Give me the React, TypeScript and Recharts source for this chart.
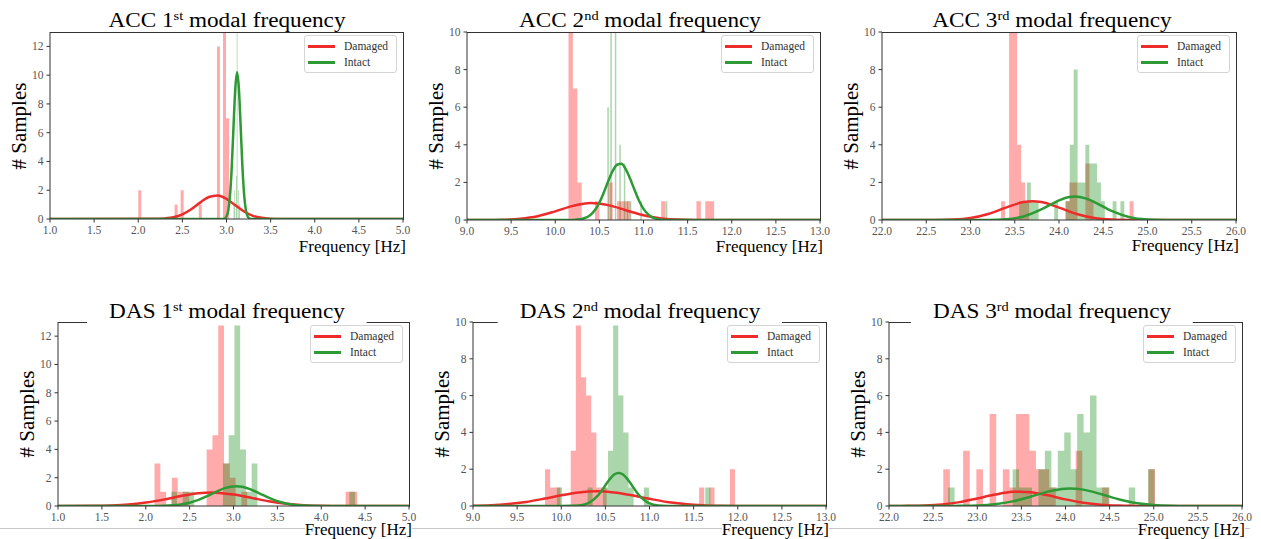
import React from 'react';
import { ComposedChart, Area, Line, XAxis, YAxis } from 'recharts';

const DAMAGED = '#ee2b2b';
const INTACT = '#2e9a35';
const FONT = '"Liberation Serif", "Times New Roman", serif';

// axis ticks
const freqTicksA = [1.0, 1.5, 2.0, 2.5, 3.0, 3.5, 4.0, 4.5, 5.0];
const freqTicksB = [9.0, 9.5, 10.0, 10.5, 11.0, 11.5, 12.0, 12.5, 13.0];
const freqTicksC = [22.0, 22.5, 23.0, 23.5, 24.0, 24.5, 25.0, 25.5, 26.0];
const countTicks13 = [0, 2, 4, 6, 8, 10, 12];
const countTicks10 = [0, 2, 4, 6, 8, 10];

// ---- ACC 1st modal frequency (histogram: first bin start, bin width, counts)
const acc1DamagedStart = 2.0;
const acc1DamagedWidth = 0.0343;
const acc1DamagedCounts = [2, 0, 0, 0, 0, 0, 0, 0, 0, 0, 0, 0, 1, 0, 2, 0, 0, 0, 0, 0, 1, 0, 0, 0, 0, 0, 12, 0, 16, 7];
const acc1IntactStart = 3.08;
const acc1IntactWidth = 0.009;
const acc1IntactCounts = [1, 2, 0, 3, 14, 0, 2, 1];
const acc1DamagedFitX = [1.0, 2.2, 2.3, 2.4, 2.5, 2.6, 2.7, 2.8, 2.9, 3.0, 3.1, 3.2, 3.3, 3.4, 3.5, 3.6, 5.0];
const acc1DamagedFitY = [0, 0.01, 0.04, 0.12, 0.32, 0.68, 1.14, 1.53, 1.64, 1.4, 0.95, 0.52, 0.22, 0.08, 0.02, 0, 0];
const acc1IntactFitX = [1.0, 2.96, 2.98, 3.0, 3.02, 3.04, 3.06, 3.08, 3.1, 3.12, 3.14, 3.16, 3.18, 3.2, 3.22, 3.24, 3.26, 3.28, 5.0];
const acc1IntactFitY = [0, 0, 0.04, 0.17, 0.6, 1.67, 3.68, 6.5, 9.1, 10.2, 9.1, 6.5, 3.68, 1.67, 0.6, 0.17, 0.04, 0, 0];

// ---- ACC 2nd modal frequency
const acc2DamagedStart = 10.15;
const acc2DamagedWidth = 0.05;
const acc2DamagedCounts = [12, 7, 2, 0, 0, 0, 1, 0, 0, 2, 0, 1, 1, 1, 0, 0, 0, 0, 0, 0, 0, 1, 0, 0, 0, 0, 0, 0, 0, 1, 0, 1, 1];
const acc2IntactStart = 10.59;
const acc2IntactWidth = 0.017;
const acc2IntactCounts = [6, 0, 12, 0, 0, 12, 0, 0, 4, 0, 0, 3, 0, 1, 0, 1, 0, 0, 0, 0, 0, 0, 1, 0, 0, 0, 0, 0, 0, 0, 0, 0, 0, 0, 0, 0, 0, 0, 0, 1];
const acc2DamagedFitX = [9.0, 9.2, 9.4, 9.6, 9.8, 10.0, 10.2, 10.4, 10.6, 10.8, 11.0, 11.2, 11.4, 11.6, 11.8, 13.0];
const acc2DamagedFitY = [0, 0.003, 0.016, 0.067, 0.2, 0.46, 0.75, 0.9, 0.79, 0.52, 0.25, 0.086, 0.02, 0.004, 0, 0];
const acc2IntactFitX = [9.0, 10.2, 10.3, 10.4, 10.45, 10.5, 10.55, 10.6, 10.65, 10.7, 10.75, 10.8, 10.85, 10.9, 10.95, 11.0, 11.05, 11.1, 11.2, 11.3, 13.0];
const acc2IntactFitY = [0, 0.006, 0.05, 0.27, 0.53, 0.92, 1.46, 2.06, 2.6, 2.94, 2.99, 2.69, 2.18, 1.58, 1.02, 0.59, 0.31, 0.14, 0.02, 0, 0];

// ---- ACC 3rd modal frequency
const acc3DamagedStart = 23.345;
const acc3DamagedWidth = 0.0454;
const acc3DamagedCounts = [1, 0, 12, 12, 4, 2, 1, 0, 0, 0, 0, 0, 0, 0, 0, 0, 1, 2, 2, 0, 0, 3, 1, 0, 0, 0, 0, 0, 0, 0, 0, 0, 1];
const acc3IntactStart = 23.55;
const acc3IntactWidth = 0.044;
const acc3IntactCounts = [1, 1, 2, 1, 1, 0, 0, 0, 0, 1, 0, 0, 1, 4, 8, 2, 2, 4, 3, 3, 2, 1, 0, 0, 1, 0, 1];
const acc3DamagedFitX = [22.0, 22.6, 22.8, 23.0, 23.2, 23.4, 23.6, 23.7, 23.8, 24.0, 24.2, 24.4, 24.6, 24.8, 25.0, 26.0];
const acc3DamagedFitY = [0, 0.004, 0.024, 0.105, 0.32, 0.66, 0.955, 1.0, 0.955, 0.66, 0.32, 0.105, 0.024, 0.004, 0, 0];
const acc3IntactFitX = [22.0, 23.2, 23.4, 23.6, 23.8, 23.9, 24.0, 24.1, 24.18, 24.3, 24.4, 24.6, 24.8, 25.0, 25.2, 25.4, 26.0];
const acc3IntactFitY = [0, 0.006, 0.04, 0.19, 0.56, 0.81, 1.04, 1.21, 1.25, 1.15, 0.95, 0.47, 0.15, 0.03, 0.004, 0, 0];

// ---- DAS 1st modal frequency
const das1DamagedStart = 2.1;
const das1DamagedWidth = 0.066;
const das1DamagedCounts = [3, 1, 0, 2, 1, 1, 0, 0, 0, 4, 5, 16, 3, 2, 0, 1, 0, 0, 0, 0, 0, 0, 0, 0, 0, 0, 0, 0, 0, 0, 0, 0, 0, 1, 1];
const das1IntactStart = 2.29;
const das1IntactWidth = 0.0655;
const das1IntactCounts = [1, 0, 1, 1, 0, 0, 0, 0, 0, 3, 5, 16, 4, 1, 3, 0, 0, 0, 0, 0, 0, 0, 0, 0, 0, 0, 0, 0, 0, 0, 0, 1];
const das1DamagedFitX = [1.0, 1.4, 1.6, 1.8, 2.0, 2.2, 2.4, 2.6, 2.75, 2.8, 3.0, 3.2, 3.4, 3.6, 3.8, 4.0, 4.2, 4.4, 5.0];
const das1DamagedFitY = [0, 0.01, 0.036, 0.1, 0.24, 0.45, 0.7, 0.9, 0.95, 0.94, 0.81, 0.58, 0.34, 0.16, 0.06, 0.02, 0.005, 0, 0];
const das1IntactFitX = [1.0, 2.0, 2.2, 2.4, 2.5, 2.6, 2.7, 2.8, 2.9, 3.03, 3.1, 3.2, 3.3, 3.4, 3.5, 3.6, 3.8, 4.0, 4.2, 5.0];
const das1IntactFitY = [0, 0, 0.017, 0.11, 0.23, 0.43, 0.7, 1.0, 1.26, 1.4, 1.36, 1.16, 0.88, 0.59, 0.34, 0.18, 0.03, 0.005, 0, 0];

// ---- DAS 2nd modal frequency
const das2DamagedStart = 9.816;
const das2DamagedWidth = 0.0582;
const das2DamagedCounts = [2, 1, 1, 0, 0, 3, 12, 7, 6, 4, 1, 1, 0, 0, 0, 0, 0, 0, 0, 0, 0, 0, 0, 0, 0, 0, 0, 0, 0, 0, 1, 0, 1, 0, 0, 0, 2];
const das2IntactStart = 9.95;
const das2IntactWidth = 0.058;
const das2IntactCounts = [1, 0, 0, 0, 0, 0, 1, 0, 0, 1, 3, 12, 6, 4, 1, 0, 0, 1, 0, 0, 0, 0, 0, 0, 0, 0, 0, 0, 0, 1];
const das2DamagedFitX = [9.0, 9.2, 9.4, 9.6, 9.8, 10.0, 10.2, 10.4, 10.6, 10.8, 11.0, 11.2, 11.4, 11.6, 11.8, 12.0, 12.2, 13.0];
const das2DamagedFitY = [0.016, 0.045, 0.11, 0.22, 0.39, 0.58, 0.74, 0.8, 0.74, 0.58, 0.39, 0.22, 0.11, 0.045, 0.016, 0.005, 0, 0];
const das2IntactFitX = [9.0, 10.0, 10.2, 10.3, 10.35, 10.4, 10.45, 10.5, 10.55, 10.6, 10.65, 10.7, 10.75, 10.8, 10.85, 10.9, 10.95, 11.0, 11.1, 11.2, 11.3, 13.0];
const das2IntactFitY = [0, 0, 0.027, 0.14, 0.28, 0.49, 0.78, 1.13, 1.46, 1.71, 1.8, 1.71, 1.46, 1.13, 0.78, 0.49, 0.28, 0.14, 0.027, 0.003, 0, 0];

// ---- DAS 3rd modal frequency
const das3DamagedStart = 22.615;
const das3DamagedWidth = 0.075;
const das3DamagedCounts = [2, 0, 0, 3, 0, 2, 0, 5, 0, 2, 1, 5, 5, 3, 2, 2, 1, 0, 0, 0, 3, 0, 0, 0, 1, 0, 0, 0, 0, 0, 0, 2];
const das3IntactStart = 22.67;
const das3IntactWidth = 0.0731;
const das3IntactCounts = [1, 0, 0, 0, 0, 0, 0, 0, 0, 0, 2, 1, 1, 0, 2, 3, 1, 3, 4, 2, 5, 4, 6, 1, 1, 0, 0, 0, 1, 0, 0, 2];
const das3DamagedFitX = [22.0, 22.2, 22.4, 22.6, 22.8, 23.0, 23.2, 23.4, 23.48, 23.6, 23.8, 24.0, 24.2, 24.4, 24.6, 24.8, 25.0, 26.0];
const das3DamagedFitY = [0, 0.008, 0.029, 0.087, 0.21, 0.41, 0.62, 0.77, 0.78, 0.75, 0.58, 0.36, 0.18, 0.071, 0.022, 0.006, 0, 0];
const das3IntactFitX = [22.0, 22.6, 22.8, 23.0, 23.2, 23.4, 23.6, 23.8, 24.0, 24.05, 24.2, 24.4, 24.6, 24.8, 25.0, 25.2, 25.4, 25.6, 26.0];
const das3IntactFitY = [0, 0, 0.007, 0.03, 0.1, 0.25, 0.5, 0.78, 0.94, 0.95, 0.89, 0.65, 0.37, 0.16, 0.057, 0.015, 0.003, 0, 0];

type Pt = { x: number; y: number };

function histSteps(start: number, width: number, counts: number[]): Pt[] {
  const pts = counts.map((c, i) => ({ x: start + i * width, y: c }));
  pts.push({ x: start + counts.length * width, y: 0 });
  return pts;
}

function curve(xs: number[], ys: number[]): Pt[] {
  return xs.map((x, i) => ({ x, y: ys[i] }));
}

// serif grey tick labels like matplotlib's
function XTick(props: any) {
  const { x, y, payload } = props;
  return (
    <text x={x} y={y + 9} textAnchor="middle" style={{ fontFamily: FONT, fontSize: 11.5, fill: '#555' }}>
      {Number(payload.value).toFixed(1)}
    </text>
  );
}

function YTick(props: any) {
  const { x, y, payload } = props;
  return (
    <text x={x - 1} y={y + 4} textAnchor="end" style={{ fontFamily: FONT, fontSize: 11.5, fill: '#555' }}>
      {payload.value}
    </text>
  );
}

type PanelProps = {
  name: string;
  ord: string;
  left: number;
  top: number;
  w: number;
  h: number;
  xTicks: number[];
  yMax: number;
  yTicks: number[];
  damagedHist: Pt[];
  intactHist: Pt[];
  damagedFit: Pt[];
  intactFit: Pt[];
  titleX: number;
  titleY: number;
  xLabelY: number;
  bottomRow?: boolean;
};

function Panel(p: PanelProps) {
  const yAxisW = 32;
  const mTop = 6;
  const mRight = 14;
  const xAxisH = 22;
  const domain: [number, number] = [p.xTicks[0], p.xTicks[p.xTicks.length - 1]];
  const legendW = 93;
  const legendLeft = p.left + p.w - 6 - legendW;
  const legendTop = p.top + 3;
  return (
    <>
      <div style={{ position: 'absolute', left: p.left - yAxisW, top: p.top - mTop }}>
        <ComposedChart
          width={yAxisW + p.w + mRight}
          height={mTop + p.h + xAxisH}
          margin={{ top: mTop, right: mRight, bottom: 0, left: 0 }}
          style={{ fontFamily: FONT }}
        >
          <XAxis
            xAxisId="b"
            dataKey="x"
            type="number"
            domain={domain}
            ticks={p.xTicks}
            interval={0}
            allowDataOverflow
            tick={<XTick />}
            tickSize={3.5}
            height={xAxisH}
            axisLine={{ stroke: '#333' }}
            tickLine={{ stroke: '#333' }}
          />
          <YAxis
            yAxisId="l"
            type="number"
            domain={[0, p.yMax]}
            ticks={p.yTicks}
            interval={0}
            allowDataOverflow
            width={yAxisW}
            tick={<YTick />}
            tickSize={3.5}
            axisLine={{ stroke: '#333' }}
            tickLine={{ stroke: '#333' }}
          />
          <Area
            xAxisId="b"
            yAxisId="l"
            data={p.damagedHist}
            dataKey="y"
            type="stepAfter"
            stroke="none"
            fill="#ff0000"
            fillOpacity={0.33}
            dot={false}
            activeDot={false}
            isAnimationActive={false}
          />
          <Area
            xAxisId="b"
            yAxisId="l"
            data={p.intactHist}
            dataKey="y"
            type="stepAfter"
            stroke="none"
            fill="#008000"
            fillOpacity={0.33}
            dot={false}
            activeDot={false}
            isAnimationActive={false}
          />
          <Line
            xAxisId="b"
            yAxisId="l"
            data={p.damagedFit}
            dataKey="y"
            type="monotone"
            stroke={DAMAGED}
            strokeWidth={2.5}
            dot={false}
            activeDot={false}
            isAnimationActive={false}
          />
          <Line
            xAxisId="b"
            yAxisId="l"
            data={p.intactFit}
            dataKey="y"
            type="monotone"
            stroke={INTACT}
            strokeWidth={2.5}
            dot={false}
            activeDot={false}
            isAnimationActive={false}
          />
        </ComposedChart>
      </div>

      {/* axes frame (top and right spines) */}
      <div
        style={{
          position: 'absolute',
          left: p.left,
          top: p.top - 0.5,
          width: p.w + 0.5,
          height: p.h + 1,
          boxSizing: 'border-box',
          borderTop: '1px solid #333',
          borderRight: '1px solid #333',
          pointerEvents: 'none',
        }}
      />

      {/* title */}
      <div
        style={{
          position: 'absolute',
          left: p.titleX,
          top: p.titleY,
          transform: 'translate(-50%, -50%) scaleX(1.16)',
          fontFamily: FONT,
          fontSize: 20,
          lineHeight: '24px',
          whiteSpace: 'nowrap',
          color: '#000',
          background: p.bottomRow ? '#fff' : 'transparent',
          padding: '0 19px',
        }}
      >
        {p.name} {p.ord[0]}
        <span style={{ fontSize: '0.62em', position: 'relative', top: '-0.6em' }}>{p.ord.slice(1)}</span> modal frequency
      </div>

      {/* y label */}
      <div
        style={{
          position: 'absolute',
          left: p.left - 31,
          top: p.top + p.h / 2,
          transform: 'translate(-50%, -50%) rotate(-90deg)',
          fontFamily: FONT,
          fontSize: 21,
          whiteSpace: 'nowrap',
          color: '#000',
        }}
      >
        # Samples
      </div>

      {/* x label */}
      <div
        style={{
          position: 'absolute',
          right: 1261 - (p.left + p.w + 3),
          top: p.xLabelY,
          transform: 'translateY(-50%)',
          fontFamily: FONT,
          fontSize: 17,
          lineHeight: '18px',
          whiteSpace: 'nowrap',
          color: '#000',
          background: '#fff',
        }}
      >
        Frequency [Hz]
      </div>

      {/* legend */}
      <div
        style={{
          position: 'absolute',
          left: legendLeft,
          top: legendTop,
          width: legendW,
          height: 38,
          boxSizing: 'border-box',
          border: '1px solid #d4d4d4',
          borderRadius: 3,
          background: 'rgba(255,255,255,0.8)',
          fontFamily: FONT,
          fontSize: 11.5,
          color: '#333',
        }}
      >
        {[
          { label: 'Damaged', color: DAMAGED, y: 10 },
          { label: 'Intact', color: INTACT, y: 26 },
        ].map((it) => (
          <div key={it.label} style={{ position: 'absolute', left: 0, top: it.y - 8, height: 16, width: '100%' }}>
            <div style={{ position: 'absolute', left: 3, top: 7, width: 27, height: 2.5, background: it.color }} />
            <div style={{ position: 'absolute', left: 39, top: 0, lineHeight: '16px', whiteSpace: 'nowrap' }}>{it.label}</div>
          </div>
        ))}
      </div>
    </>
  );
}

export default function App() {
  return (
    <div style={{ position: 'absolute', left: 0, top: 0, width: 1261, height: 539, background: '#fff', overflow: 'hidden' }}>
      <div style={{ position: 'absolute', left: 0, top: 528, width: 1250, height: 1, background: '#c8c8c8' }} />
      <Panel
        name="ACC"
        ord="1st"
        left={50}
        top={32}
        w={353}
        h={187}
        xTicks={freqTicksA}
        yMax={13}
        yTicks={countTicks13}
        damagedHist={histSteps(acc1DamagedStart, acc1DamagedWidth, acc1DamagedCounts)}
        intactHist={histSteps(acc1IntactStart, acc1IntactWidth, acc1IntactCounts)}
        damagedFit={curve(acc1DamagedFitX, acc1DamagedFitY)}
        intactFit={curve(acc1IntactFitX, acc1IntactFitY)}
        titleX={227}
        titleY={21}
        xLabelY={247}
      />
      <Panel
        name="ACC"
        ord="2nd"
        left={467}
        top={32}
        w={353}
        h={188}
        xTicks={freqTicksB}
        yMax={10}
        yTicks={countTicks10}
        damagedHist={histSteps(acc2DamagedStart, acc2DamagedWidth, acc2DamagedCounts)}
        intactHist={histSteps(acc2IntactStart, acc2IntactWidth, acc2IntactCounts)}
        damagedFit={curve(acc2DamagedFitX, acc2DamagedFitY)}
        intactFit={curve(acc2IntactFitX, acc2IntactFitY)}
        titleX={640}
        titleY={21}
        xLabelY={247}
      />
      <Panel
        name="ACC"
        ord="3rd"
        left={882}
        top={32}
        w={354}
        h={188}
        xTicks={freqTicksC}
        yMax={10}
        yTicks={countTicks10}
        damagedHist={histSteps(acc3DamagedStart, acc3DamagedWidth, acc3DamagedCounts)}
        intactHist={histSteps(acc3IntactStart, acc3IntactWidth, acc3IntactCounts)}
        damagedFit={curve(acc3DamagedFitX, acc3DamagedFitY)}
        intactFit={curve(acc3IntactFitX, acc3IntactFitY)}
        titleX={1052}
        titleY={21}
        xLabelY={246}
      />
      <Panel
        name="DAS"
        ord="1st"
        left={58}
        top={322}
        w={351}
        h={184}
        xTicks={freqTicksA}
        yMax={13}
        yTicks={countTicks13}
        damagedHist={histSteps(das1DamagedStart, das1DamagedWidth, das1DamagedCounts)}
        intactHist={histSteps(das1IntactStart, das1IntactWidth, das1IntactCounts)}
        damagedFit={curve(das1DamagedFitX, das1DamagedFitY)}
        intactFit={curve(das1IntactFitX, das1IntactFitY)}
        titleX={227}
        titleY={312}
        xLabelY={530}
        bottomRow
      />
      <Panel
        name="DAS"
        ord="2nd"
        left={473}
        top={322}
        w={353}
        h={184}
        xTicks={freqTicksB}
        yMax={10}
        yTicks={countTicks10}
        damagedHist={histSteps(das2DamagedStart, das2DamagedWidth, das2DamagedCounts)}
        intactHist={histSteps(das2IntactStart, das2IntactWidth, das2IntactCounts)}
        damagedFit={curve(das2DamagedFitX, das2DamagedFitY)}
        intactFit={curve(das2IntactFitX, das2IntactFitY)}
        titleX={640}
        titleY={312}
        xLabelY={530}
        bottomRow
      />
      <Panel
        name="DAS"
        ord="3rd"
        left={889}
        top={322}
        w={353}
        h={184}
        xTicks={freqTicksC}
        yMax={10}
        yTicks={countTicks10}
        damagedHist={histSteps(das3DamagedStart, das3DamagedWidth, das3DamagedCounts)}
        intactHist={histSteps(das3IntactStart, das3IntactWidth, das3IntactCounts)}
        damagedFit={curve(das3DamagedFitX, das3DamagedFitY)}
        intactFit={curve(das3IntactFitX, das3IntactFitY)}
        titleX={1052}
        titleY={312}
        xLabelY={530}
        bottomRow
      />
    </div>
  );
}
